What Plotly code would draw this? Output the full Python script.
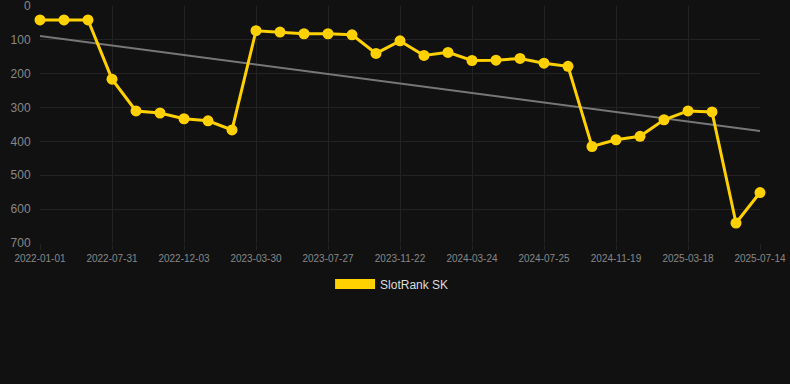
import numpy as np
import plotly.graph_objects as go

tick_labels = ["2022-01-01", "2022-07-31", "2022-12-03", "2023-03-30", "2023-07-27",
               "2023-11-22", "2024-03-24", "2024-07-25", "2024-11-19", "2025-03-18", "2025-07-14"]
rank = [41, 41, 41, 216, 310, 316, 333, 339, 366, 73, 77, 82, 82, 85, 140, 103,
        146, 137, 161, 160, 155, 169, 178, 415, 395, 385, 336, 310, 313, 641, 551]
series_name = "SlotRank SK"

idx = np.arange(len(rank))
slope, intercept = np.polyfit(idx, rank, 1)
trend = slope * idx + intercept

YELLOW = "#FFD100"
BG = "#111111"
GRID = "#232323"

fig = go.Figure()
fig.add_trace(go.Scatter(x=idx, y=trend, mode="lines",
                         line=dict(color="#777777", width=2),
                         showlegend=False, hoverinfo="skip", cliponaxis=False))
fig.add_trace(go.Scatter(x=idx, y=rank, mode="lines+markers",
                         line=dict(color=YELLOW, width=3),
                         marker=dict(color=YELLOW, size=11),
                         showlegend=False, cliponaxis=False))
fig.add_trace(go.Scatter(x=[None], y=[None], mode="lines", name=series_name,
                         line=dict(color=YELLOW, width=12), showlegend=True))

fig.update_layout(
    width=790, height=384,
    paper_bgcolor=BG, plot_bgcolor=BG,
    margin=dict(l=40, r=30, t=6, b=141, autoexpand=False),
    font=dict(family="Liberation Sans, Arial, sans-serif", color="#888888"),
    showlegend=True,
    legend=dict(orientation="h", x=0.489, xanchor="center", y=-0.112, yanchor="top",
                itemwidth=40,
                font=dict(size=12, color="#dddddd"), bgcolor="rgba(0,0,0,0)"),
    xaxis=dict(range=[0, len(rank) - 1], tickmode="array",
               tickvals=list(idx[::3]), ticktext=tick_labels,
               showgrid=True, gridcolor=GRID, zeroline=False,
               ticks="outside", ticklen=6, tickcolor=GRID,
               tickfont=dict(size=10, color="#888888"),
               ticklabeloverflow="allow", showline=False, automargin=False),
    yaxis=dict(range=[700, 0], tickvals=[0, 100, 200, 300, 400, 500, 600, 700],
               showgrid=True, gridcolor=GRID, zeroline=False,
               ticks="outside", ticklen=6, tickcolor=BG,
               tickfont=dict(size=12, color="#888888"),
               ticklabeloverflow="allow", showline=False, automargin=False),
)

fig.write_html("out.html", config={"displayModeBar": False},
               post_script="document.body.style.margin='0';document.body.style.background='#111111';")
